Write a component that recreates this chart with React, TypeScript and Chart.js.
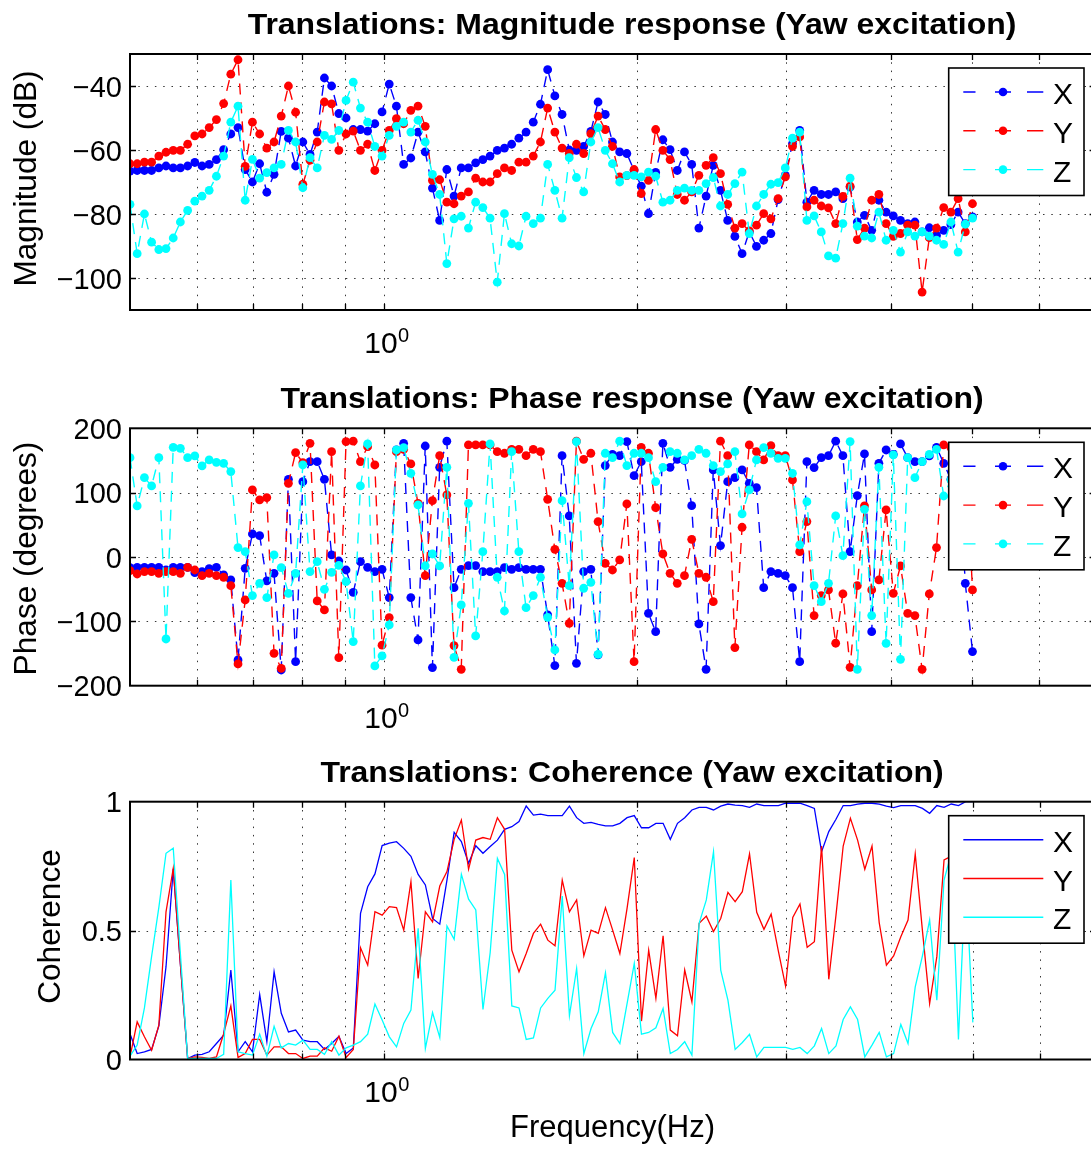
import { useEffect, useRef } from 'react';
import { Chart, registerables } from 'chart.js';

Chart.register(...registerables);

// Frequency vector (Hz), log-spaced from 0.5 to 5 Hz
const FREQ_HZ = [
  0.5000, 0.5099, 0.5201, 0.5304, 0.5410, 0.5517, 0.5627, 0.5738, 0.5853, 0.5969,
  0.6088, 0.6208, 0.6332, 0.6458, 0.6586, 0.6717, 0.6850, 0.6987, 0.7126, 0.7267,
  0.7412, 0.7559, 0.7709, 0.7862, 0.8019, 0.8178, 0.8340, 0.8506, 0.8675, 0.8848,
  0.9024, 0.9203, 0.9386, 0.9572, 0.9763, 0.9957, 1.0155, 1.0356, 1.0562, 1.0772,
  1.0986, 1.1205, 1.1427, 1.1655, 1.1886, 1.2122, 1.2363, 1.2609, 1.2860, 1.3115,
  1.3376, 1.3642, 1.3913, 1.4190, 1.4472, 1.4759, 1.5053, 1.5352, 1.5657, 1.5968,
  1.6286, 1.6609, 1.6939, 1.7276, 1.7619, 1.7970, 1.8327, 1.8691, 1.9063, 1.9441,
  1.9828, 2.0222, 2.0624, 2.1034, 2.1452, 2.1878, 2.2313, 2.2757, 2.3209, 2.3670,
  2.4141, 2.4620, 2.5110, 2.5609, 2.6118, 2.6637, 2.7166, 2.7706, 2.8257, 2.8819,
  2.9392, 2.9976, 3.0572, 3.1179, 3.1799, 3.2431, 3.3075, 3.3733, 3.4403, 3.5087,
  3.5785, 3.6496, 3.7221, 3.7961, 3.8715, 3.9485, 4.0270, 4.1070, 4.1886, 4.2719,
  4.3568, 4.4434, 4.5317, 4.6218, 4.7136, 4.8073, 4.9029, 5.0000,
];

// Magnitude (dB)
const MAG_X = [
  -66.6, -66.4, -66.4, -66.4, -65.6, -65.0, -65.6, -65.6, -65.0, -63.9,
  -65.0, -64.5, -63.0, -59.9, -55.0, -53.0, -66.1, -70.0, -64.3, -73.2,
  -67.6, -54.2, -56.3, -65.0, -57.5, -61.4, -54.4, -37.5, -40.0, -48.6,
  -50.0, -53.6, -53.6, -54.1, -51.8, -48.1, -39.4, -46.3, -64.5, -62.5,
  -54.4, -60.6, -71.9, -82.0, -66.1, -74.4, -65.6, -65.6, -64.0, -63.0,
  -61.9, -60.1, -59.4, -58.2, -56.3, -54.4, -51.3, -45.7, -34.9, -43.1,
  -48.9, -60.0, -60.1, -58.9, -54.2, -45.0, -48.9, -57.5, -60.6, -61.1,
  -66.4, -71.3, -79.9, -67.0, -56.8, -59.9, -66.4, -60.6, -64.5, -84.4,
  -74.4, -64.8, -72.6, -82.0, -87.0, -92.4, -85.6, -90.1, -88.2, -86.1,
  -75.5, -67.9, -58.0, -53.9, -76.3, -72.6, -73.9, -73.9, -73.1, -75.2,
  -71.6, -82.5, -80.4, -85.1, -75.7, -79.4, -80.6, -82.0, -83.0, -82.5,
  -85.6, -84.3, -86.7, -85.1, -83.3, -79.4, -83.0, -80.9,
];
const MAG_Y = [
  -64.3, -64.3, -63.8, -63.8, -61.9, -60.7, -60.1, -60.1, -58.2, -55.6,
  -55.0, -53.0, -50.5, -45.5, -36.3, -31.8, -65.1, -51.3, -55.0, -59.4,
  -57.5, -49.4, -40.0, -48.2, -70.7, -63.2, -57.5, -45.0, -45.6, -60.1,
  -55.0, -54.1, -60.1, -58.2, -66.4, -60.1, -53.9, -50.2, -51.8, -47.6,
  -46.3, -52.6, -69.5, -69.3, -76.3, -76.8, -74.4, -73.1, -68.8, -70.0,
  -70.0, -67.4, -65.6, -66.4, -63.8, -63.8, -61.9, -57.5, -46.9, -54.4,
  -59.4, -61.1, -58.2, -61.1, -54.9, -49.4, -53.6, -58.9, -68.4, -68.0,
  -66.1, -73.6, -69.5, -53.6, -60.1, -63.0, -73.9, -75.7, -73.1, -67.9,
  -64.8, -62.4, -67.4, -77.0, -84.4, -83.0, -85.3, -83.5, -79.9, -81.5,
  -75.2, -68.4, -58.9, -55.9, -77.8, -75.7, -77.5, -78.1, -83.0, -74.5,
  -71.3, -88.0, -84.4, -75.7, -73.9, -83.0, -87.0, -86.1, -83.5, -83.5,
  -104.4, -87.4, -84.4, -78.0, -79.4, -75.2, -85.6, -76.8,
];
const MAG_Z = [
  -77.0, -92.4, -80.0, -88.8, -91.1, -90.8, -87.5, -82.5, -78.9, -76.0,
  -74.4, -72.6, -68.2, -61.9, -51.3, -46.3, -75.7, -62.9, -68.8, -67.1,
  -65.6, -64.5, -53.9, -57.5, -71.8, -62.4, -65.6, -55.4, -56.7, -53.9,
  -44.5, -38.8, -46.9, -51.3, -58.9, -61.9, -55.4, -52.6, -51.3, -54.4,
  -50.7, -57.5, -67.6, -73.9, -95.5, -81.5, -80.7, -84.4, -76.3, -78.0,
  -81.3, -101.3, -79.9, -89.3, -90.0, -80.7, -83.0, -81.3, -64.5, -72.6,
  -81.3, -62.4, -68.6, -73.1, -57.5, -53.0, -60.1, -64.3, -70.0, -67.9,
  -67.9, -68.4, -66.9, -68.2, -76.3, -75.7, -72.6, -71.9, -72.6, -72.6,
  -70.5, -68.6, -77.5, -73.9, -70.5, -66.9, -86.1, -77.5, -73.9, -70.7,
  -70.2, -65.6, -56.3, -54.4, -82.0, -80.6, -85.6, -93.1, -93.8, -83.0,
  -68.8, -83.8, -86.9, -87.5, -79.4, -88.2, -85.1, -91.9, -85.6, -86.9,
  -85.6, -86.9, -88.2, -89.5, -82.5, -91.9, -83.2, -81.3,
];

// Phase (degrees)
const PHASE_X = [
  -16.5, -16, -16, -16, -16, -20, -16, -16, -16, -24.3,
  -22.7, -18, -16, -27.9, -35.7, -160, -17.6, 35.8, 33.2, -37.2,
  -25.3, -175.6, 120.7, -162.7, 117.1, 148.2, 148.2, 120.7, 3.2, -6.2,
  -20.2, -54.9, -7.2, -16, -22.7, -19.1, -63.1, 166.3, 176.7, -63.1,
  -128.9, 172.5, -171.9, 139.4, 180, -47.6, -19.1, -13.4, -13.4, -22.7,
  -22.7, -22.7, -16.5, -19.1, -16.5, -19.1, -19.1, -19.1, -90.1, -168.8,
  157.5, 63.8, -165.2, -22.7, -19.1, -152.2, 142, 159.6, 157.5, 179.3,
  126.4, 148.2, -87.5, -116, 176.7, 139.4, 151.8, 150, 79.8, -104,
  -174.5, 135.3, 17.7, 117.1, 123.3, 135.3, 114.5, 107.8, -47.6, -22.7,
  -25.3, -29, -47.6, -162.6, 148.2, 138.9, 154.4, 157.5, 180, 157.5,
  8.3, 95.4, 160.1, -116, 145.6, 166.3, 159.6, 175.7, 154.4, 148.2,
  148.2, 157, 170.5, 145.6, 120.7, 150, -40.9, -147,
];
const PHASE_Y = [
  -21.2, -26.4, -22.7, -22.7, -25.3, -22.7, -22.7, -25.3, -16, -20.2,
  -29, -25.3, -29, -31.5, -44.5, -166.2, -66.8, 104.2, 88.7, 92.3,
  -149.7, -173, 114.5, 162.2, 146.6, 176.7, -68.3, -82.3, 163.7, -156.4,
  179.3, 180, 148.2, 171.5, 143, -137, -94.2, 163.7, 167.4, 144.6,
  83.4, -29, 87.6, 157.5, 96.4, -137.7, -174.5, 174.1, 174.1, 174.1,
  174.1, 163.7, 161.2, 167.4, 167.4, 157.5, 167.4, 163.7, 89.7, 12,
  -40.9, -103, 180, 151.8, 161.2, 55, -9.8, -20.2, -4.6, 82.4,
  -162.6, 170.5, 161.2, 76.7, 4.7, -25.3, -40.9, -29, 27.5, -25.3,
  -31.5, -69.4, 180, 157.5, -140.8, 46.2, 174.1, 163.7, 150.8, 173,
  157.5, 157.5, 119.7, 8.3, 55, -91.1, -60, -51.2, -134, -57.4,
  -171.4, -44.5, 79.3, -51.2, -35.7, 73.1, -56.4, -13.9, -87.5, -91.1,
  -174.5, -57.4, 14.6, 174.1, 170, 165, 172, -51.2,
];
const PHASE_Z = [
  154.4, 79.3, 123.3, 110.4, 154.4, -127.4, 170.5, 168.9, 154.4, 157,
  141.5, 150.8, 147.2, 145.6, 132.7, 14.6, 8.4, -60, -40.9, -63.1,
  3.2, -16.5, -56.4, -25.3, 143, -22.7, -7.2, -50.2, -23.8, -12.9,
  -38.3, -131.5, 110.4, 175.7, -169.3, -153.7, -105.6, 166.3, 170, 130,
  80.9, -13.9, 4.7, -13.9, 139.4, -155.9, -74.5, 83.4, -122.7, 8.3,
  175.7, -31.5, -83.9, 163.7, 8.3, -78.7, -60, -31.5, -93.7, -144.5,
  87.6, -44.5, 179.3, -48.6, -39.3, -151.2, 161.2, 154.4, 180, 142,
  161.2, 161.2, 154.4, 117.1, 139.4, 163.7, 161.2, 150.8, 157.5, 167.4,
  161.2, 142, 132.7, 144.6, 163.7, 66.9, 104.2, 150.8, 170, 161.2,
  153.4, 153.4, 130, 18.7, 86, -44.5, -69.4, -40.9, 63.8, 2.1,
  179.3, -174.5, 74.1, -91.1, 139.4, -134.1, 158.6, -159, 154.4, 123.3,
  148.2, 159.6, 167.4, 94.8, 120, 150, 160, 98,
];

// Coherence (0..1)
const COH_X = [
  0.10, 0.023, 0.03, 0.039, 0.13, 0.36, 0.74, 0.37, 0.004, 0.017,
  0.02, 0.03, 0.062, 0.094, 0.347, 0.03, 0.069, 0.03, 0.252, 0.069,
  0.34, 0.179, 0.107, 0.114, 0.075, 0.069, 0.069, 0.039, 0.062, 0.09,
  0.023, 0.045, 0.567, 0.67, 0.72, 0.83, 0.839, 0.845, 0.819, 0.788,
  0.718, 0.677, 0.547, 0.525, 0.696, 0.881, 0.845, 0.761, 0.829, 0.80,
  0.826, 0.851, 0.893, 0.903, 0.923, 0.983, 0.948, 0.952, 0.946, 0.946,
  0.946, 0.983, 0.938, 0.916, 0.92, 0.912, 0.906, 0.906, 0.916, 0.938,
  0.946, 0.899, 0.899, 0.916, 0.916, 0.854, 0.916, 0.938, 0.968, 0.978,
  0.978, 0.968, 0.983, 0.991, 0.987, 0.985, 0.978, 0.991, 0.985, 0.985,
  0.985, 0.994, 0.994, 0.994, 0.985, 0.974, 0.806, 0.884, 0.932, 0.985,
  0.985, 0.991, 0.994, 0.994, 0.991, 0.983, 0.977, 0.985, 0.985, 0.985,
  0.974, 0.955, 0.985, 0.978, 0.991, 0.985, 1.0, 1.0,
];
const COH_Y = [
  0.01, 0.146, 0.088, 0.036, 0.133, 0.573, 0.741, 0.37, 0.004, 0.01,
  0.008, 0.004, 0.01, 0.10, 0.208, 0.008, 0.023, 0.078, 0.078, 0.017,
  0.049, 0.049, 0.023, 0.023, 0.004, 0.013, 0.013, 0.045, 0.032, 0.09,
  0.008, 0.039, 0.433, 0.366, 0.573, 0.56, 0.593, 0.589, 0.502, 0.69,
  0.314, 0.573, 0.534, 0.673, 0.729, 0.854, 0.929, 0.738, 0.851, 0.861,
  0.854, 0.938, 0.893, 0.424, 0.34, 0.411, 0.489, 0.525, 0.463, 0.441,
  0.696, 0.573, 0.619, 0.402, 0.502, 0.489, 0.589, 0.502, 0.411, 0.586,
  0.783, 0.149, 0.424, 0.237, 0.48, 0.114, 0.092, 0.347, 0.224, 0.528,
  0.556, 0.496, 0.547, 0.648, 0.612, 0.651, 0.797, 0.571, 0.505, 0.564,
  0.42, 0.285, 0.551, 0.603, 0.435, 0.457, 0.828, 0.311, 0.56, 0.828,
  0.936, 0.851, 0.738, 0.828, 0.531, 0.366, 0.402, 0.476, 0.541, 0.797,
  0.5, 0.217, 0.399, 0.774, 0.789, 0.72, 0.80, 0.85,
];
const COH_Z = [
  0.013, 0.056, 0.2, 0.40, 0.59, 0.80, 0.82, 0.41, 0.004, 0.004,
  0.004, 0.004, 0.004, 0.02, 0.696, 0.03, 0.023, 0.017, 0.098, 0.013,
  0.129, 0.045, 0.062, 0.056, 0.075, 0.039, 0.039, 0.02, 0.069, 0.017,
  0.045, 0.056, 0.069, 0.098, 0.215, 0.153, 0.088, 0.049, 0.14, 0.192,
  0.509, 0.043, 0.182, 0.085, 0.518, 0.466, 0.718, 0.622, 0.58, 0.194,
  0.415, 0.78, 0.718, 0.208, 0.2, 0.078, 0.084, 0.2, 0.237, 0.269,
  0.634, 0.17, 0.353, 0.023, 0.12, 0.185, 0.336, 0.105, 0.062, 0.217,
  0.373, 0.098, 0.105, 0.123, 0.198, 0.023, 0.039, 0.069, 0.017, 0.528,
  0.619, 0.806, 0.347, 0.23, 0.039, 0.066, 0.098, 0.01, 0.047, 0.047,
  0.047, 0.047, 0.039, 0.047, 0.023, 0.053, 0.12, 0.023, 0.053, 0.155,
  0.204, 0.155, 0.01, 0.056, 0.105, 0.01, 0.023, 0.136, 0.062, 0.282,
  0.402, 0.541, 0.23, 0.696, 0.8, 0.078, 0.72, 0.144,
];

const SERIES_NAMES = ['X', 'Y', 'Z'];
const SERIES_COLORS = ['#0000ff', '#ff0000', '#00ffff'];

// Log-axis grid (minor decades) and value-axis ticks
const FREQ_GRID_HZ = [0.6, 0.7, 0.8, 0.9, 1, 2, 3, 4, 5, 6];
const FREQ_MIN = 0.5;
const FREQ_MAX = 7;
const MAG_TICKS = [-40, -60, -80, -100];
const PHASE_TICKS = [200, 100, 0, -100, -200];
const COH_TICKS = [0, 0.5, 1];

const PAGE_W = 1091;
const PAGE_H = 1150;
const CANVAS_W = 1100;
const AXES_LEFT = 130;
const AXES_RIGHT = 1096;
const FONT_FAMILY = '"Liberation Sans", Arial, Helvetica, sans-serif';

type PanelSpec = {
  key: string;
  title: string;
  ylabel: string;
  ylabelX: number;
  ylabelY: number;
  top: number;
  bottom: number;
  yMin: number;
  yMax: number;
  ticks: number[];
  series: number[][];
  markers: boolean;
  xlabel?: string;
};

const PANELS: PanelSpec[] = [
  {
    key: 'mag',
    title: 'Translations: Magnitude response (Yaw excitation)',
    ylabel: 'Magnitude (dB)',
    ylabelX: 36,
    ylabelY: 178.5,
    top: 54,
    bottom: 310,
    yMin: -110,
    yMax: -30,
    ticks: MAG_TICKS,
    series: [MAG_X, MAG_Y, MAG_Z],
    markers: true,
  },
  {
    key: 'phase',
    title: 'Translations: Phase response (Yaw excitation)',
    ylabel: 'Phase (degrees)',
    ylabelX: 36,
    ylabelY: 558.5,
    top: 428.3,
    bottom: 685.7,
    yMin: -200,
    yMax: 200,
    ticks: PHASE_TICKS,
    series: [PHASE_X, PHASE_Y, PHASE_Z],
    markers: true,
  },
  {
    key: 'coh',
    title: 'Translations: Coherence (Yaw excitation)',
    ylabel: 'Coherence',
    ylabelX: 60,
    ylabelY: 926.5,
    top: 801.7,
    bottom: 1059.5,
    yMin: 0,
    yMax: 1,
    ticks: COH_TICKS,
    series: [COH_X, COH_Y, COH_Z],
    markers: false,
    xlabel: 'Frequency(Hz)',
  },
];

const tickText = (v: number) => String(v).replace('-', '\u2212');

function drawText(
  ctx: CanvasRenderingContext2D,
  s: string,
  x: number,
  y: number,
  size: number,
  opts: { bold?: boolean; align?: CanvasTextAlign; stretch?: number; rotate?: boolean } = {},
) {
  ctx.save();
  ctx.font = `${opts.bold ? 'bold ' : ''}${size}px ${FONT_FAMILY}`;
  ctx.fillStyle = '#000';
  ctx.textBaseline = 'alphabetic';
  ctx.textAlign = opts.align ?? 'left';
  ctx.translate(x, y);
  if (opts.rotate) ctx.rotate(-Math.PI / 2);
  ctx.scale(opts.stretch ?? 1, 1);
  ctx.fillText(s, 0, 0);
  ctx.restore();
}

function axesDecor(p: PanelSpec) {
  return {
    id: 'axesDecor',
    beforeDatasetsDraw(chart: any) {
      const { ctx, chartArea: a, scales } = chart;
      ctx.save();
      ctx.strokeStyle = 'rgba(20,20,20,0.85)';
      ctx.lineWidth = 1;
      ctx.setLineDash([1.5, 6.8]);
      for (const f of FREQ_GRID_HZ) {
        const x = Math.round(scales.x.getPixelForValue(f)) + 0.5;
        ctx.beginPath();
        ctx.moveTo(x, a.top);
        ctx.lineTo(x, a.bottom);
        ctx.stroke();
      }
      for (const v of p.ticks) {
        if (v === p.yMin || v === p.yMax) continue;
        const y = Math.round(scales.y.getPixelForValue(v)) + 0.5;
        ctx.beginPath();
        ctx.moveTo(a.left, y);
        ctx.lineTo(a.right, y);
        ctx.stroke();
      }
      ctx.restore();
    },
    afterDatasetsDraw(chart: any) {
      const { ctx, chartArea: a, scales } = chart;
      const tickLen = 6;
      ctx.save();
      ctx.strokeStyle = '#000';
      ctx.lineWidth = 1.3;
      ctx.setLineDash([]);
      for (const f of FREQ_GRID_HZ) {
        const x = Math.round(scales.x.getPixelForValue(f)) + 0.5;
        ctx.beginPath();
        ctx.moveTo(x, a.bottom);
        ctx.lineTo(x, a.bottom - tickLen);
        ctx.moveTo(x, a.top);
        ctx.lineTo(x, a.top + tickLen);
        ctx.stroke();
      }
      for (const v of p.ticks) {
        if (v === p.yMin || v === p.yMax) continue;
        const y = Math.round(scales.y.getPixelForValue(v)) + 0.5;
        ctx.beginPath();
        ctx.moveTo(a.left, y);
        ctx.lineTo(a.left + tickLen, y);
        ctx.moveTo(a.right, y);
        ctx.lineTo(a.right - tickLen, y);
        ctx.stroke();
      }
      ctx.lineWidth = 2;
      ctx.strokeRect(a.left, a.top, a.right - a.left, a.bottom - a.top);
      ctx.restore();

      // value-axis tick labels
      for (const v of p.ticks) {
        const y = scales.y.getPixelForValue(v);
        drawText(ctx, tickText(v), a.left - 8, y + 10.5, 29, { align: 'right' });
      }
      // single decade label on the log axis
      const x1 = scales.x.getPixelForValue(1);
      drawText(ctx, '10', x1 + 14, a.bottom + 42.5, 30, { align: 'right' });
      drawText(ctx, '0', x1 + 14.5, a.bottom + 31.5, 20, { align: 'left' });

      // title and axis labels
      drawText(ctx, p.title, 632, a.top - 20, 30, { bold: true, align: 'center', stretch: 1.065 });
      drawText(ctx, p.ylabel, p.ylabelX, p.ylabelY, 31, { align: 'center', stretch: 1.02, rotate: true });
      if (p.xlabel) {
        drawText(ctx, p.xlabel, 612.5, 1137, 31, { align: 'center' });
      }

      // legend
      const lx0 = 948.7;
      const lx1 = 1084;
      const lTop = a.top + 14;
      const lH = 127.5;
      ctx.save();
      ctx.fillStyle = '#fff';
      ctx.fillRect(lx0, lTop, lx1 - lx0, lH);
      ctx.strokeStyle = '#000';
      ctx.lineWidth = 1.6;
      ctx.strokeRect(lx0, lTop, lx1 - lx0, lH);
      SERIES_NAMES.forEach((name, k) => {
        const y = lTop + 24 + k * 38.8;
        ctx.strokeStyle = SERIES_COLORS[k];
        ctx.lineWidth = 1.4;
        ctx.beginPath();
        if (p.markers) {
          for (const [s, e] of [[963.3, 975.5], [995, 1011], [1027, 1043.3]]) {
            ctx.moveTo(s, y);
            ctx.lineTo(e, y);
          }
        } else {
          ctx.moveTo(963.3, y);
          ctx.lineTo(1043.3, y);
        }
        ctx.stroke();
        if (p.markers) {
          ctx.fillStyle = SERIES_COLORS[k];
          ctx.beginPath();
          ctx.arc(1003, y, 4.3, 0, Math.PI * 2);
          ctx.fill();
        }
        drawText(ctx, name, 1053, y + 12, 30, { align: 'left' });
      });
      ctx.restore();
    },
  };
}

function Panel({ spec }: { spec: PanelSpec }) {
  const ref = useRef<HTMLCanvasElement>(null);
  useEffect(() => {
    const canvas = ref.current;
    if (!canvas) return;
    const chart = new Chart(canvas, {
      type: 'line',
      data: {
        datasets: spec.series.map((vals, k) => ({
          label: SERIES_NAMES[k],
          data: FREQ_HZ.map((f, i) => ({ x: f, y: vals[i] })),
          borderColor: SERIES_COLORS[k],
          backgroundColor: SERIES_COLORS[k],
          borderWidth: spec.markers ? 1.4 : 1.3,
          borderDash: spec.markers ? [11, 8] : [],
          pointRadius: spec.markers ? 4.4 : 0,
          pointHoverRadius: 0,
          pointBorderWidth: 0,
          pointBackgroundColor: SERIES_COLORS[k],
          tension: 0,
          fill: false,
          order: 3 - k,
        })),
      },
      options: {
        responsive: false,
        animation: false,
        devicePixelRatio: 1,
        events: [],
        layout: {
          padding: {
            left: AXES_LEFT,
            right: CANVAS_W - AXES_RIGHT,
            top: spec.top,
            bottom: PAGE_H - spec.bottom,
          },
        },
        scales: {
          x: { type: 'logarithmic', min: FREQ_MIN, max: FREQ_MAX, display: false },
          y: { type: 'linear', min: spec.yMin, max: spec.yMax, display: false },
        },
        plugins: {
          legend: { display: false },
          tooltip: { enabled: false },
          title: { display: false },
        },
      },
      plugins: [axesDecor(spec)],
    } as any);
    return () => chart.destroy();
  }, [spec]);
  return (
    <canvas
      ref={ref}
      width={CANVAS_W}
      height={PAGE_H}
      style={{ position: 'absolute', left: 0, top: 0, width: CANVAS_W, height: PAGE_H }}
    />
  );
}

export default function App() {
  return (
    <div
      style={{
        position: 'fixed',
        left: 0,
        top: 0,
        width: PAGE_W,
        height: PAGE_H,
        overflow: 'hidden',
        background: '#fff',
      }}
    >
      {PANELS.map((p) => (
        <Panel key={p.key} spec={p} />
      ))}
    </div>
  );
}
